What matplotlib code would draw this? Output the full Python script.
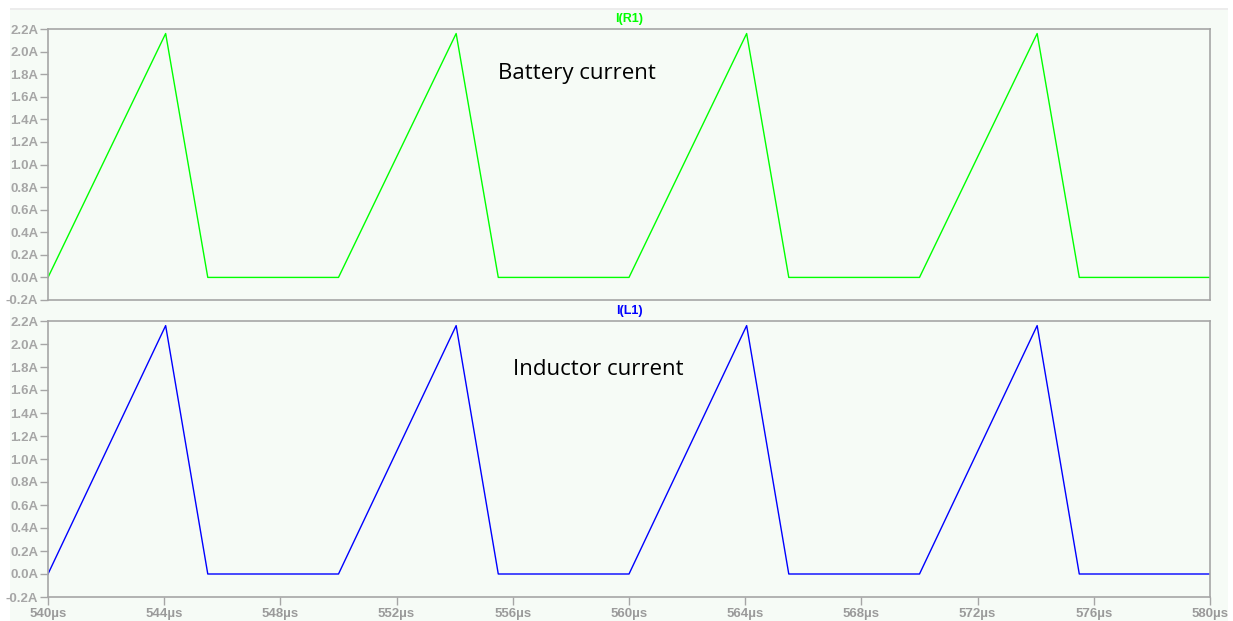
import numpy as np
import matplotlib.pyplot as plt
from matplotlib.patches import Rectangle

# waveform corners (time in us, current in A)
t_us = [540.0, 544.05, 545.5, 550.0, 554.05, 555.5, 560.0, 564.05, 565.5, 570.0, 574.05, 575.5, 580.0]
i_r1 = [0.0, 2.16, 0.0, 0.0, 2.16, 0.0, 0.0, 2.16, 0.0, 0.0, 2.16, 0.0, 0.0]
i_l1 = [0.0, 2.16, 0.0, 0.0, 2.16, 0.0, 0.0, 2.16, 0.0, 0.0, 2.16, 0.0, 0.0]

y_ticks = np.round(np.arange(-0.2, 2.21, 0.2), 1)
y_labels = ['%.1fA' % v for v in y_ticks]
x_ticks = np.arange(540, 581, 4)
x_labels = ['%dµs' % v for v in x_ticks]

bg = '#f6fbf6'
grey = '#a6a6a6'
W, H = 1233, 621

fig = plt.figure(figsize=(W / 100, H / 100), dpi=100)
fig.patch.set_facecolor('white')
# pale panel behind the plots, like the LTspice window
fig.patches.append(Rectangle((10 / W, 0), 1218 / W, 1 - 10 / H, transform=fig.transFigure,
                             facecolor=bg, edgecolor='none', zorder=-10))
fig.patches.append(Rectangle((10 / W, 1 - 10 / H), 1218 / W, 2 / H, transform=fig.transFigure,
                             facecolor='#ececec', edgecolor='none', zorder=-9))

left, right = 48 / W, 1210 / W
ax1 = fig.add_axes([left, 1 - 300 / H, right - left, 271 / H])
ax2 = fig.add_axes([left, 1 - 597 / H, right - left, 276 / H])

lab_font = dict(family='Liberation Sans', weight='bold', size=9.5, color='#9a9a9a')

for ax, y, col, name, txt, tx, ty in [
        (ax1, i_r1, '#00ff00', 'I(R1)', 'Battery current', 498, 79),
        (ax2, i_l1, '#0000ff', 'I(L1)', 'Inductor current', 513, 375)]:
    ax.set_facecolor(bg)
    ax.plot(t_us, y, color=col, lw=1.0)
    ax.set_xlim(540, 580)
    ax.set_ylim(-0.2, 2.2)
    ax.set_yticks(y_ticks)
    ax.set_yticklabels(y_labels, **lab_font)
    ax.set_xticks(x_ticks)
    for s in ax.spines.values():
        s.set_color(grey)
        s.set_linewidth(1.2)
    ax.tick_params(colors=grey, direction='out', length=6, width=1, pad=1)
    ax.set_title(name, color=col, fontsize=9, fontweight='bold', family='Liberation Sans', pad=5)
    fig.text(tx / W, 1 - ty / H, txt, fontsize=16, family='Open Sans', color='black',
             ha='left', va='baseline')

ax1.tick_params(axis='x', length=0, labelbottom=False)
ax2.set_xticklabels(x_labels, **lab_font)
ax2.tick_params(axis='x', pad=2)

fig.savefig('out.png', dpi=100, facecolor=fig.get_facecolor())
